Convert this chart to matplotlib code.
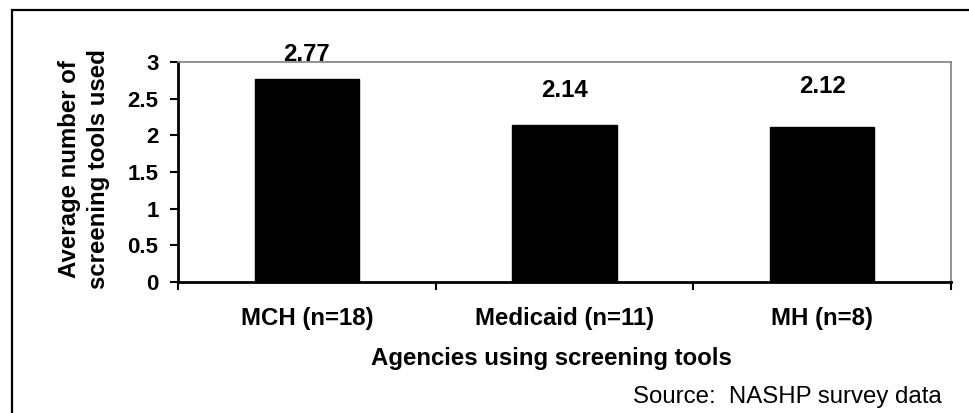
import matplotlib
matplotlib.use("Agg")
import matplotlib.pyplot as plt
from matplotlib.patches import Rectangle

# Data
agencies = ["MCH (n=18)", "Medicaid (n=11)", "MH (n=8)"]
avg_tools = [2.77, 2.14, 2.12]
value_labels = ["2.77", "2.14", "2.12"]
y_ticks = [0, 0.5, 1, 1.5, 2, 2.5, 3]
y_tick_labels = ["0", "0.5", "1", "1.5", "2", "2.5", "3"]

# label offsets above each bar (pixels), as placed in the original
label_offsets = [24, 35, 40]

plt.rcParams['font.family'] = ['Liberation Sans', 'DejaVu Sans']


def main():
    W, H = 969, 413
    fig = plt.figure(figsize=(W / 100, H / 100), dpi=100)

    # outer frame of the slide/picture
    fig.patches.append(Rectangle((12 / W, -0.2), 1.2, 1.2 - 10 / H,
                                 transform=fig.transFigure, fill=False,
                                 edgecolor='black', linewidth=1.6))

    left, right, top, bottom = 178, 951, 62, 282
    ax = fig.add_axes([left / W, 1 - bottom / H, (right - left) / W, (bottom - top) / H])

    x = list(range(len(agencies)))
    ax.bar(x, avg_tools, width=0.404, color='black', edgecolor='black')

    fs = 17.3
    for xi, v, lab, off in zip(x, avg_tools, value_labels, label_offsets):
        ax.annotate(lab, (xi, v), xytext=(0, off), textcoords='offset pixels',
                    ha='center', va='center', fontsize=fs, fontweight='bold',
                    annotation_clip=False)

    ax.set_xlim(-0.5, len(agencies) - 0.5)
    ax.set_ylim(0, 3)
    ax.set_yticks(y_ticks)
    ax.set_yticklabels(y_tick_labels, fontsize=16, fontweight='bold')
    ax.set_xticks(x)
    ax.set_xticklabels(agencies, fontsize=fs, fontweight='bold')
    ax.set_xticks([i - 0.5 for i in range(len(agencies) + 1)], minor=True)

    ax.tick_params(axis='y', direction='out', length=6, width=1.5, pad=8)
    ax.tick_params(axis='x', which='major', length=0, pad=18)
    ax.tick_params(axis='x', which='minor', direction='out', length=6, width=1.5)

    for side in ['left', 'bottom']:
        ax.spines[side].set_color('black')
        ax.spines[side].set_linewidth(2)
    for side in ['top', 'right']:
        ax.spines[side].set_color('#888888')
        ax.spines[side].set_linewidth(1.3)

    fig.text(84 / W, 1 - 169 / H, "Average number of\nscreening tools used",
             rotation=90, ha='center', va='center', fontsize=fs,
             fontweight='bold', linespacing=1.3, multialignment='center')
    fig.text(551 / W, 1 - 358 / H, "Agencies using screening tools",
             ha='center', va='center', fontsize=fs, fontweight='bold')
    fig.text(942 / W, 1 - 397 / H, "Source:  NASHP survey data",
             ha='right', va='center', fontsize=fs)

    fig.savefig("out.png", dpi=100)


if __name__ == "__main__":
    main()
